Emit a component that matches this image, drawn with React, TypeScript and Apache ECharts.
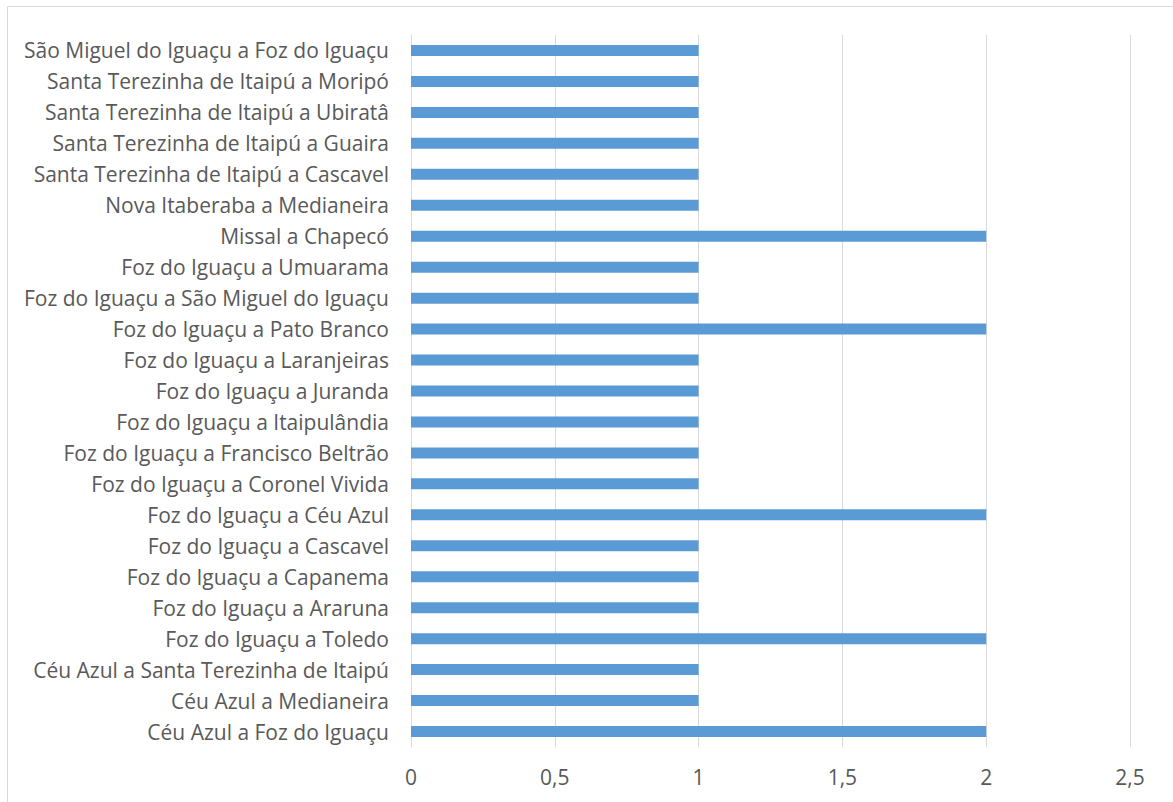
import React, { useEffect, useRef } from "react";
import * as echarts from "echarts";

// Routes, listed bottom to top as they appear on the category axis
const routes: string[] = [
  "Céu Azul a Foz do Iguaçu",
  "Céu Azul a Medianeira",
  "Céu Azul a Santa Terezinha de Itaipú",
  "Foz do Iguaçu a Toledo",
  "Foz do Iguaçu a Araruna",
  "Foz do Iguaçu a Capanema",
  "Foz do Iguaçu a Cascavel",
  "Foz do Iguaçu a Céu Azul",
  "Foz do Iguaçu a Coronel Vivida",
  "Foz do Iguaçu a Francisco Beltrão",
  "Foz do Iguaçu a Itaipulândia",
  "Foz do Iguaçu a Juranda",
  "Foz do Iguaçu a Laranjeiras",
  "Foz do Iguaçu a Pato Branco",
  "Foz do Iguaçu a São Miguel do Iguaçu",
  "Foz do Iguaçu a Umuarama",
  "Missal a Chapecó",
  "Nova Itaberaba a Medianeira",
  "Santa Terezinha de Itaipú a Cascavel",
  "Santa Terezinha de Itaipú a Guaira",
  "Santa Terezinha de Itaipú a Ubiratâ",
  "Santa Terezinha de Itaipú a Moripó",
  "São Miguel do Iguaçu a Foz do Iguaçu",
];

const counts: number[] = [
  2, 1, 1, 2, 1, 1, 1, 2, 1, 1, 1, 1, 1, 2, 1, 1, 2, 1, 1, 1, 1, 1, 1,
];

const axisMin = 0;
const axisMax = 2.5;
const axisStep = 0.5;

const FONT = "'Open Sans', 'Noto Sans', sans-serif";
const TEXT = "#595959";

export default function App() {
  const ref = useRef<HTMLDivElement>(null);

  useEffect(() => {
    if (!ref.current) return;
    const chart = echarts.init(ref.current, undefined, { renderer: "svg" });
    chart.setOption({
      animation: false,
      backgroundColor: "#ffffff",
      textStyle: { fontFamily: FONT },
      graphic: [
        {
          type: "rect",
          shape: { x: 7.5, y: 6.5, width: 1180, height: 820 },
          style: { fill: "none", stroke: "#D9D9D9", lineWidth: 1 },
          silent: true,
        },
      ],
      grid: { left: 411, right: 43, top: 35, bottom: 55, containLabel: false },
      xAxis: {
        type: "value",
        min: axisMin,
        max: axisMax,
        interval: axisStep,
        axisLine: { show: false },
        axisTick: { show: false },
        splitLine: { show: true, lineStyle: { color: "#D9D9D9", width: 1 } },
        axisLabel: {
          color: TEXT,
          fontSize: 21,
          fontFamily: FONT,
          margin: 19,
          formatter: (v: number) => String(v).replace(".", ","),
        },
      },
      yAxis: {
        type: "category",
        data: routes,
        axisLine: { show: true, lineStyle: { color: "#D9D9D9", width: 1 } },
        axisTick: { show: false },
        axisLabel: {
          color: TEXT,
          fontSize: 21,
          fontFamily: FONT,
          margin: 22,
        },
      },
      series: [
        {
          type: "bar",
          data: counts,
          barWidth: 11,
          itemStyle: { color: "#5B9BD5" },
        },
      ],
    });
    return () => chart.dispose();
  }, []);

  return (
    <div
      ref={ref}
      style={{ position: "absolute", left: 0, top: 0, width: 1173, height: 802 }}
    />
  );
}
